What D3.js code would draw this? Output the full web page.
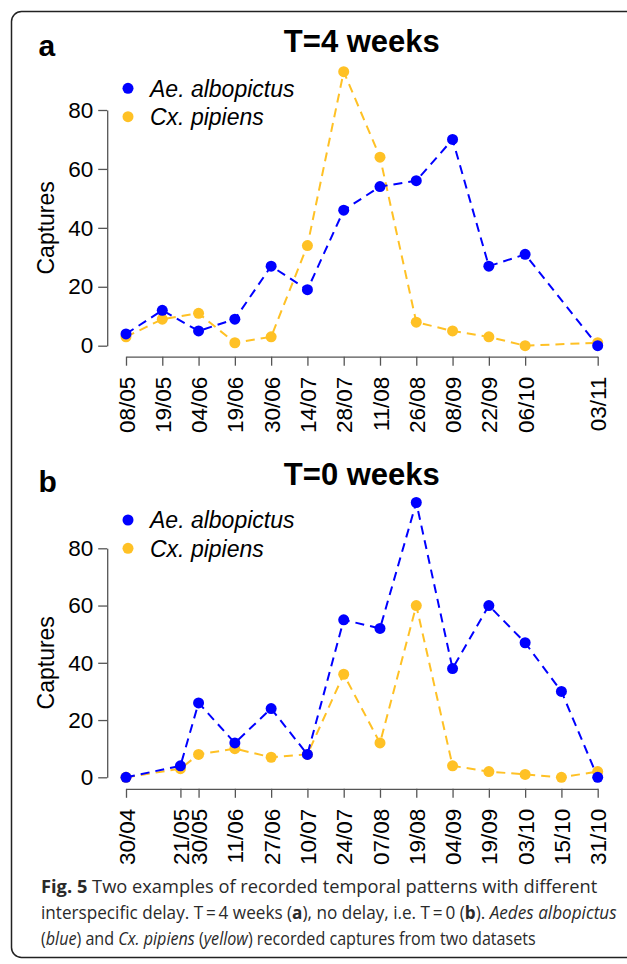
<!DOCTYPE html>
<html>
<head>
<meta charset="utf-8">
<script src="https://cdn.jsdelivr.net/npm/d3@7"></script>
<style>
  html, body { margin: 0; padding: 0; background: #fff; }
  svg { display: block; }
</style>
</head>
<body>
<div id="chart"></div>
<script>
// ---- data ----
const datesA = ["08/05","19/05","04/06","19/06","30/06","14/07","28/07","11/08","26/08","08/09","22/09","06/10","03/11"];
const posA   = [0,1,2,3,4,5,6,7,8,9,10,11,13];
const albopictusA = [4,12,5,9,27,19,46,54,56,70,27,31,0];
const pipiensA    = [3,9,11,1,3,34,93,64,8,5,3,0,1];

const datesB = ["30/04","21/05","30/05","11/06","27/06","10/07","24/07","07/08","19/08","04/09","19/09","03/10","15/10","31/10"];
const posB   = [0,1.5,2,3,4,5,6,7,8,9,10,11,12,13];
const albopictusB = [0,4,26,12,24,8,55,52,96,38,60,47,30,0];
const pipiensB    = [0,3,8,10,7,8,36,12,60,4,2,1,0,2];

const yTicks = [0,20,40,60,80];
const seriesNames = ["Ae. albopictus","Cx. pipiens"];
const seriesColors = ["#0000ff","#ffc125"];

const W = 627, H = 964;
const svg = d3.select("#chart").append("svg").attr("width", W).attr("height", H);
svg.append("rect").attr("width", W).attr("height", H).attr("fill", "#fff");

// frame
svg.append("rect").attr("x", 11.5).attr("y", 11.5).attr("width", 700).attr("height", 946)
  .attr("rx", 10).attr("fill", "none").attr("stroke", "#222").attr("stroke-width", 1.5);

const FONT = "'Liberation Sans', Arial, Helvetica, sans-serif";
const xLeft = 126, xRight = 597.7;

function panel(cfg) {
  const x = d3.scaleLinear().domain([0, 13]).range([xLeft, xRight]);
  const y = d3.scaleLinear().domain([0, 80]).range([cfg.y0, cfg.y80]);
  const g = svg.append("g");

  // panel letter & title
  g.append("text").attr("x", 38.5).attr("y", cfg.letterY).text(cfg.letter)
    .attr("font-family", FONT).attr("font-weight", "bold").attr("font-size", 30);
  g.append("text").attr("x", (xLeft + xRight) / 2).attr("y", cfg.titleY).text(cfg.title)
    .attr("text-anchor", "middle")
    .attr("font-family", FONT).attr("font-weight", "bold").attr("font-size", 31);

  // y axis
  const ya = g.append("g").attr("transform", `translate(107.2,0)`)
    .call(d3.axisLeft(y).tickValues(yTicks).tickSize(9).tickSizeOuter(0).tickPadding(5));
  ya.select(".domain").attr("stroke", "#555").attr("stroke-width", 1.3);
  ya.selectAll(".tick line").attr("stroke", "#555").attr("stroke-width", 1.3);
  ya.selectAll(".tick text").attr("font-family", FONT).attr("font-size", 22.5).attr("fill", "#000");

  // x axis
  const xa = g.append("g").attr("transform", `translate(0,${cfg.xAxisY})`)
    .call(d3.axisBottom(x).tickValues(cfg.pos).tickFormat((d, i) => cfg.dates[i])
      .tickSize(9).tickSizeOuter(0));
  xa.select(".domain").attr("stroke", "#555").attr("stroke-width", 1.3);
  xa.selectAll(".tick line").attr("stroke", "#555").attr("stroke-width", 1.3);
  xa.selectAll(".tick text")
    .attr("font-family", FONT).attr("font-size", 22.5).attr("fill", "#000")
    .attr("transform", "rotate(-90)")
    .attr("x", -20).attr("y", 0).attr("dy", "0.36em")
    .style("text-anchor", "end");

  // y label
  g.append("text")
    .attr("transform", `translate(54,${(cfg.y0 + cfg.y80) / 2}) rotate(-90)`)
    .attr("text-anchor", "middle")
    .attr("font-family", FONT).attr("font-size", 23).text("Captures");

  // series (yellow first, blue on top)
  const series = [
    { vals: cfg.pip, color: seriesColors[1] },
    { vals: cfg.alb, color: seriesColors[0] }
  ];
  const line = d3.line().x(d => x(d[0])).y(d => y(d[1]));
  series.forEach(s => {
    const pts = cfg.pos.map((p, i) => [p, s.vals[i]]);
    g.append("path").datum(pts).attr("d", line)
      .attr("fill", "none").attr("stroke", s.color).attr("stroke-width", 2)
      .attr("stroke-dasharray", "9,6");
    g.selectAll(null).data(pts).enter().append("circle")
      .attr("cx", d => x(d[0])).attr("cy", d => y(d[1])).attr("r", 5.5)
      .attr("fill", s.color);
  });

  // legend
  seriesNames.forEach((name, i) => {
    const ly = cfg.legendY[i];
    g.append("circle").attr("cx", 128).attr("cy", ly).attr("r", 5.5).attr("fill", seriesColors[i]);
    g.append("text").attr("x", 150).attr("y", ly).attr("dy", "0.36em")
      .attr("font-family", FONT).attr("font-style", "italic").attr("font-size", 23)
      .text(name);
  });
}

panel({
  letter: "a", title: "T=4 weeks", letterY: 56, titleY: 51.7,
  y0: 345.7, y80: 110, xAxisY: 356.7,
  dates: datesA, pos: posA, alb: albopictusA, pip: pipiensA,
  legendY: [88.3, 116.7]
});
panel({
  letter: "b", title: "T=0 weeks", letterY: 491.7, titleY: 485,
  y0: 777.3, y80: 548.3, xAxisY: 788.8,
  dates: datesB, pos: posB, alb: albopictusB, pip: pipiensB,
  legendY: [520, 548.3]
});

// caption
const CAP = "'Open Sans', 'Noto Sans', sans-serif";
const lines = [
  [["Fig. 5", "b"], [" Two examples of recorded temporal patterns with different", ""]],
  [["interspecific delay. T\u2009=\u20094 weeks (", ""], ["a", "b"], ["), no delay, i.e. T\u2009=\u20090 (", ""], ["b", "b"], ["). ", ""], ["Aedes albopictus", "i"]],
  [["(", ""], ["blue", "i"], [") and ", ""], ["Cx. pipiens", "i"], [" (", ""], ["yellow", "i"], [") recorded captures from two datasets", ""]]
];
const lineY = [893, 919, 945];
const lineW = [557, 576, 495];
lines.forEach((parts, li) => {
  const lg = svg.append("g");
  const t = lg.append("text").attr("x", 0).attr("y", 0)
    .attr("font-family", CAP).attr("font-size", 18.5).attr("fill", "#2a2a2a");
  parts.forEach(p => {
    const ts = t.append("tspan").text(p[0]);
    if (p[1] === "b") ts.attr("font-weight", "bold");
    if (p[1] === "i") ts.attr("font-style", "italic");
  });
  const natural = t.node().getComputedTextLength() || lineW[li];
  const sx = lineW[li] / natural;
  lg.attr("transform", `translate(41,${lineY[li]}) scale(${sx},1)`);
});
</script>
</body>
</html>
